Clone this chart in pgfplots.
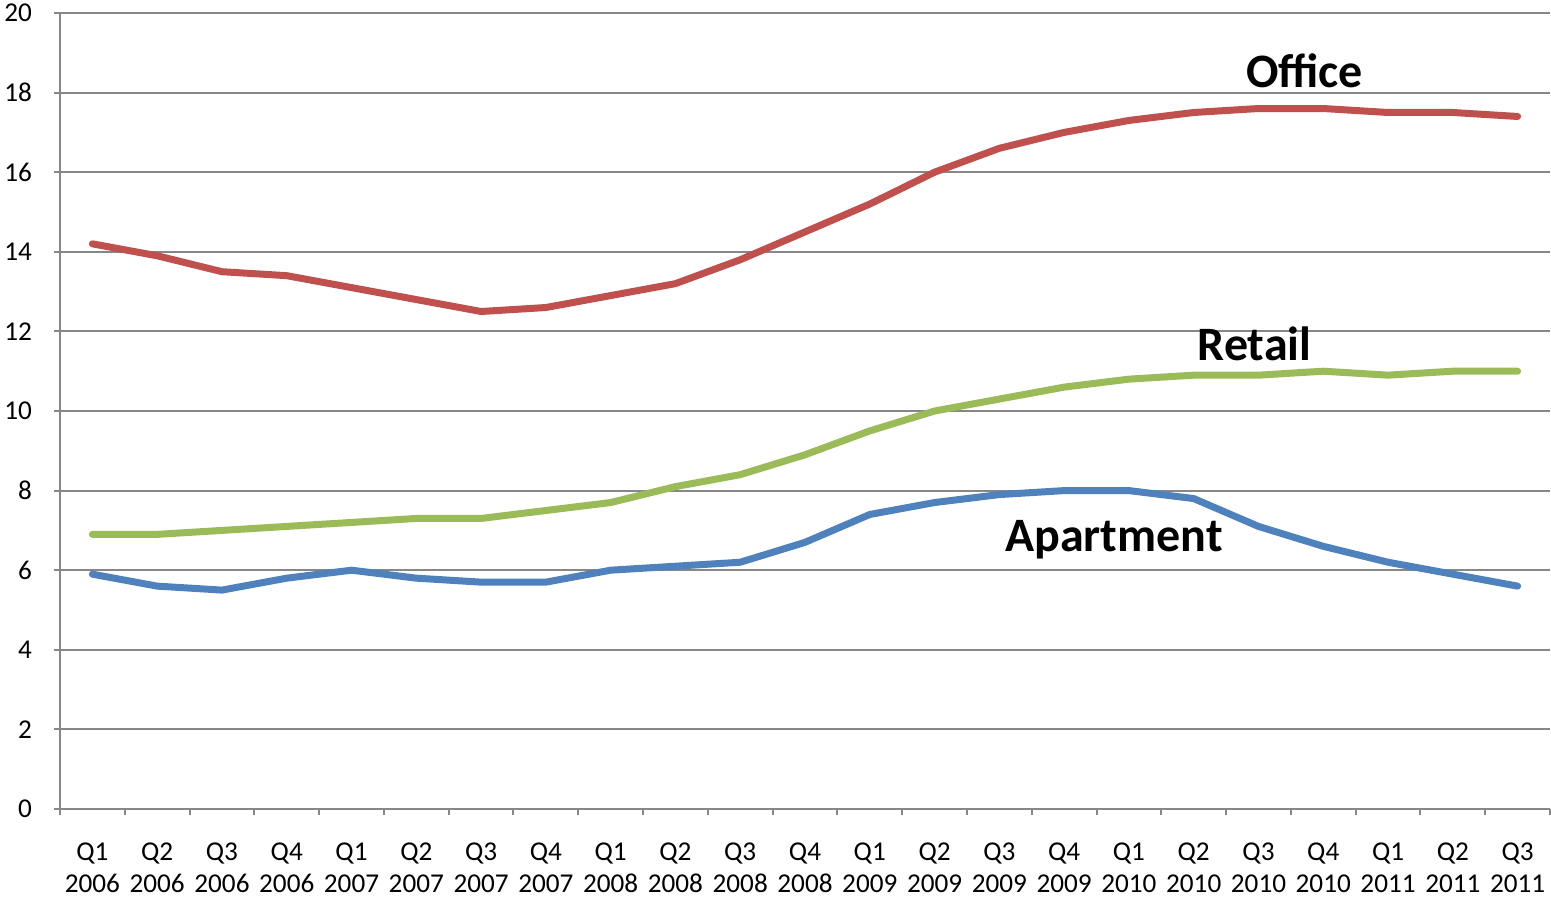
\documentclass[border=0pt]{standalone}
\usepackage{fontspec}
\setmainfont{Carlito}
\usepackage{pgfplots}
\pgfplotsset{compat=1.18}

\definecolor{office}{HTML}{C0504D}
\definecolor{retail}{HTML}{9BBB59}
\definecolor{apartment}{HTML}{4F81BD}
\definecolor{gridgray}{HTML}{878787}

\begin{document}
\begin{tikzpicture}
\path[use as bounding box] (-30pt,-45pt) rectangle (745.5pt,404.5pt);
\begin{axis}[
  at={(0,0)}, anchor=south west,
  scale only axis,
  width=745pt, height=398pt,
  xmin=-0.5, xmax=22.5,
  ymin=0, ymax=20,
  ytick={0,2,...,20},
  xtick={0,...,22},
  xticklabels={{Q1\\2006},{Q2\\2006},{Q3\\2006},{Q4\\2006},
               {Q1\\2007},{Q2\\2007},{Q3\\2007},{Q4\\2007},
               {Q1\\2008},{Q2\\2008},{Q3\\2008},{Q4\\2008},
               {Q1\\2009},{Q2\\2009},{Q3\\2009},{Q4\\2009},
               {Q1\\2010},{Q2\\2010},{Q3\\2010},{Q4\\2010},
               {Q1\\2011},{Q2\\2011},{Q3\\2011}},
  minor xtick={-0.5,0.5,...,22.5},
  axis lines*=left,
  axis line style={gridgray, line width=1pt, -},
  ymajorgrids,
  major grid style={gridgray, line width=1pt},
  tick align=outside,
  major tick length=3pt,
  minor tick length=3pt,
  major x tick style={draw=none},
  minor x tick style={gridgray, line width=1pt},
  major y tick style={gridgray, line width=1pt},
  /pgf/number format/assume math mode=true,
  tick label style={font=\fontsize{13.6}{16}\selectfont, black},
  xticklabel style={align=center, yshift=-10.5pt},
  yticklabel style={xshift=-7.5pt},
  clip=false,
]
\addplot[office, line width=3.5pt, line cap=round, line join=round] coordinates {
  (0,14.2) (1,13.9) (2,13.5) (3,13.4) (4,13.1) (5,12.8) (6,12.5) (7,12.6)
  (8,12.9) (9,13.2) (10,13.8) (11,14.5) (12,15.2) (13,16.0) (14,16.6) (15,17.0)
  (16,17.3) (17,17.5) (18,17.6) (19,17.6) (20,17.5) (21,17.5) (22,17.4)
};
\addplot[retail, line width=3.5pt, line cap=round, line join=round] coordinates {
  (0,6.9) (1,6.9) (2,7.0) (3,7.1) (4,7.2) (5,7.3) (6,7.3) (7,7.5)
  (8,7.7) (9,8.1) (10,8.4) (11,8.9) (12,9.5) (13,10.0) (14,10.3) (15,10.6)
  (16,10.8) (17,10.9) (18,10.9) (19,11.0) (20,10.9) (21,11.0) (22,11.0)
};
\addplot[apartment, line width=3.5pt, line cap=round, line join=round] coordinates {
  (0,5.9) (1,5.6) (2,5.5) (3,5.8) (4,6.0) (5,5.8) (6,5.7) (7,5.7)
  (8,6.0) (9,6.1) (10,6.2) (11,6.7) (12,7.4) (13,7.7) (14,7.9) (15,8.0)
  (16,8.0) (17,7.8) (18,7.1) (19,6.6) (20,6.2) (21,5.9) (22,5.6)
};
\node[font=\fontsize{24}{28}\selectfont\bfseries] at (axis cs:18.71,18.55) {Office};
\node[font=\fontsize{24}{28}\selectfont\bfseries] at (axis cs:17.94,11.68) {Retail};
\node[font=\fontsize{24}{28}\selectfont\bfseries] at (axis cs:15.77,6.76) {Apartment};
\end{axis}
\end{tikzpicture}
\end{document}
